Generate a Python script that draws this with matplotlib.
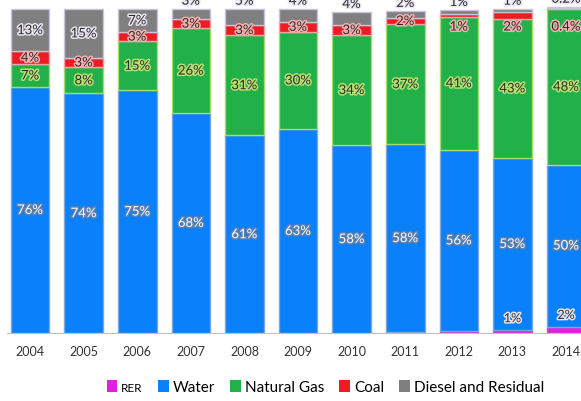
import matplotlib.pyplot as plt
import matplotlib.patheffects as pe
from matplotlib.patches import Patch
import numpy as np

plt.rcParams['font.family'] = ['Lato', 'DejaVu Sans']

years = ['2004', '2005', '2006', '2007', '2008', '2009', '2010', '2011', '2012', '2013', '2014']
rer = [0, 0, 0, 0, 0, 0, 0, 0.3, 0.6, 1, 2]
water = [76, 74, 75, 68, 61, 63, 58, 58, 56, 53, 50]
gas = [7, 8, 15, 26, 31, 30, 34, 37, 41, 43, 48]
coal = [4, 3, 3, 3, 3, 3, 3, 2, 1, 2, 0.4]
diesel = [13, 15, 7, 3, 5, 4, 4, 2, 1, 1, 0.2]

rer_lbl = ['', '', '', '', '', '', '', '', '', '1%', '2%']
coal_lbl = ['4%', '3%', '3%', '3%', '3%', '3%', '3%', '2%', '1%', '2%', '0.4%']
diesel_lbl = ['13%', '15%', '7%', '3%', '5%', '4%', '4%', '2%', '1%', '1%', '0.2%']

names = ['RER', 'Water', 'Natural Gas', 'Coal', 'Diesel and Residual']
colors = ['#E21FE0', '#0A80FA', '#22B04A', '#EC1C24', '#7F7F7F']
edges = ['#B060C0', '#7FA6D6', '#A6DC6A', '#F2A3A8', '#CBC2DC']

fig = plt.figure(figsize=(5.81, 4.02), dpi=100)
ax = fig.add_axes([7 / 581, 68 / 402, 1 - 7 / 581, 1 - 68 / 402])

x = np.arange(len(years))
w = 0.72
series = [rer, water, gas, coal, diesel]
bottom = np.zeros(len(years))
bottoms = []
for vals, c, e in zip(series, colors, edges):
    vals = np.array(vals, dtype=float)
    ax.bar(x, vals, w, bottom=bottom, color=c, edgecolor=e, linewidth=1.0, zorder=2)
    bottoms.append(bottom.copy())
    bottom = bottom + vals

fs = 9.5
white_fx = [pe.withStroke(linewidth=2.2, foreground='#5C7FAF')]
green_fx = [pe.withStroke(linewidth=2.2, foreground='#B8E070')]
red_fx = [pe.withStroke(linewidth=2.2, foreground='#F6B0B0')]
gray_fx = [pe.withStroke(linewidth=2.2, foreground='#E8E4F0')]

for i in range(len(years)):
    b_water, b_gas, b_coal, b_dies = bottoms[1][i], bottoms[2][i], bottoms[3][i], bottoms[4][i]
    top = b_dies + diesel[i]
    ax.text(x[i], b_water + water[i] / 2, f'{water[i]}%', ha='center', va='center',
            color='white', fontsize=fs, path_effects=white_fx, zorder=5)
    ax.text(x[i], b_gas + gas[i] / 2, f'{gas[i]}%', ha='center', va='center',
            color='#2A2A2A', fontsize=fs, path_effects=green_fx, zorder=5)
    # tiny coal slices: label sits lower, inside the gas bar
    cy = b_coal + coal[i] / 2 if i < 8 else 94.6
    ax.text(x[i], cy, coal_lbl[i], ha='center', va='center',
            color='#2A2A2A', fontsize=fs, path_effects=red_fx, zorder=5)
    if i <= 2:
        dy = b_dies + diesel[i] / 2
    else:
        dy = top + 2.6
    ax.text(x[i], dy, diesel_lbl[i], ha='center', va='center', clip_on=False,
            color='#2A2A2A', fontsize=fs, path_effects=gray_fx, zorder=5)
    if rer_lbl[i]:
        ax.text(x[i], rer[i] + 3.6, rer_lbl[i], ha='center', va='center',
                color='#2A2A2A', fontsize=fs - 0.5, path_effects=gray_fx, zorder=5)

ax.set_xlim(-0.43, 10.28)
ax.set_ylim(0, 103.1)
ax.set_xticks(x)
ax.set_xticklabels(years, fontsize=9, color='#333333')
ax.tick_params(axis='x', length=0, pad=9)
ax.set_yticks([])
for s in ['top', 'right', 'left']:
    ax.spines[s].set_visible(False)
ax.spines['bottom'].set_color('#BFBFBF')

handles = [Patch(facecolor=c, edgecolor='none') for c in colors]
leg = fig.legend(handles, names, loc='center', bbox_to_anchor=(0.56, 0.035), ncol=5,
                 frameon=False, fontsize=11, handlelength=0.7, handleheight=0.9,
                 handletextpad=0.25, columnspacing=1.0)
leg.get_texts()[0].set_fontsize(8.5)

fig.savefig('out.png', dpi=100)
